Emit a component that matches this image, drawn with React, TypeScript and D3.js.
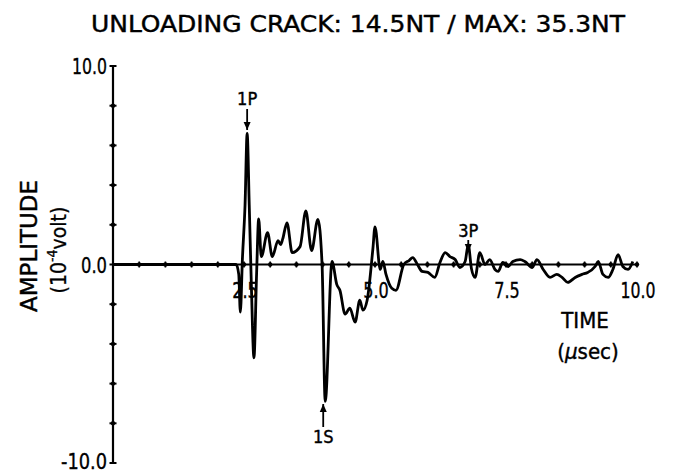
import React from "react";
import * as d3 from "d3";

const times = [0, 2.35, 2.4, 2.43, 2.47, 2.52, 2.56, 2.6, 2.64, 2.69, 2.74, 2.78, 2.83, 2.95, 3.04, 3.15, 3.2, 3.24, 3.32, 3.42, 3.57, 3.68, 3.79, 3.91, 3.99, 4.05, 4.18, 4.27, 4.33, 4.43, 4.52, 4.62, 4.71, 4.77, 4.85, 4.96, 5.0, 5.1, 5.15, 5.21, 5.32, 5.4, 5.55, 5.65, 5.72, 5.81, 5.9, 6.01, 6.14, 6.24, 6.34, 6.43, 6.53, 6.62, 6.72, 6.78, 6.84, 6.91, 7.0, 7.1, 7.19, 7.29, 7.35, 7.44, 7.54, 7.63, 7.77, 7.86, 8.0, 8.09, 8.21, 8.34, 8.47, 8.57, 8.68, 8.82, 8.95, 9.06, 9.2, 9.26, 9.35, 9.45, 9.54, 9.64, 9.73, 9.83, 9.92];
const amplitudes = [0, 0, -0.5, -2.4, 0.3, 3.0, 6.6, 3.0, -1.0, -4.7, -0.5, 2.3, 0.4, 1.6, 0.4, 1.2, 1.0, 1.3, 2.1, 0.6, 0.9, 2.7, 0.7, 2.27, 0, -6.9, 0.15, -1.0, -1.3, -2.5, -2.2, -2.9, -1.8, -2.3, -1.8, 0.8, 1.9, -0.25, 0.15, -0.5, -1.2, -1.3, 0, 0.2, 0.35, 0, -0.35, -0.4, -0.65, 0.1, 0.6, 0.4, 0.25, -0.15, 0.15, 1.0, -0.2, -0.65, 0.6, 0, 0.25, -0.25, -0.35, 0.1, -0.1, 0.15, 0.25, 0.15, -0.15, 0.25, -0.25, -0.65, -0.5, -0.65, -0.9, -0.65, -0.5, -0.4, -0.1, 0.15, -0.5, -0.65, -0.25, 0.5, -0.1, -0.25, 0.15];

const xTickLabels = ["2.5", "5.0", "7.5", "10.0"];
const xTickLabelValues = [2.5, 5.0, 7.5, 10.0];
const yTickLabels = ["10.0", "0.0", "-10.0"];
const yTickLabelValues = [10, 0, -10];

const annotationLabels = ["1P", "1S", "3P"];
const annotationTimes = [2.56, 4.05, 6.78];
const annotationDirections = ["down", "up", "down"];

const title = "UNLOADING CRACK:  14.5NT / MAX:  35.3NT";

const FONT = "'DejaVu Sans Condensed', 'DejaVu Sans', 'Liberation Sans', Arial, sans-serif";

export default function App() {
  const x = d3.scaleLinear().domain([0, 10]).range([113, 637]);
  const y = d3.scaleLinear().domain([-10, 10]).range([463, 66]);

  const data = times.map((t, i) => [t, amplitudes[i]] as [number, number]);
  const line = d3
    .line<[number, number]>()
    .x((d) => x(d[0]))
    .y((d) => y(d[1]))
    .curve(d3.curveMonotoneX);

  const xTicks = d3.range(0.5, 10.01, 0.5);
  const yTicks = d3.range(-10, 10.01, 2);

  const labelWidth = (s: string) => s.length * 9.5 - 3;

  const annots = annotationLabels.map((lab, i) => {
    const t = annotationTimes[i];
    const ax = x(t);
    if (lab === "1P") return { lab, ax, labY: 105, y1: 109, y2: 130, dir: annotationDirections[i] };
    if (lab === "1S") return { lab, ax: ax - 2, labY: 443, y1: 427, y2: 404, dir: annotationDirections[i] };
    return { lab, ax, labY: 237, y1: 240, y2: 252, dir: annotationDirections[i] };
  });

  return (
    <svg
      width={677}
      height={474}
      style={{ position: "absolute", left: 0, top: 0, background: "#fff" }}
      fontFamily={FONT}
    >
      <rect width={677} height={474} fill="#fff" />
      <text x={358} y={32} fontSize={23} textAnchor="middle" textLength={534} lengthAdjust="spacingAndGlyphs" fill="#000" stroke="#000" strokeWidth={0.4}>
        {title}
      </text>

      {/* y axis */}
      <line x1={x(0)} x2={x(0)} y1={y(10)} y2={y(-10)} stroke="#000" strokeWidth={2.2} />
      {yTicks.map((v) => (
        <g key={"yt" + v}>
          <line x1={x(0) - 3.5} x2={x(0) + 3.5} y1={y(v)} y2={y(v)} stroke="#000" strokeWidth={2} />
          {v !== 10 && v !== -10 && v !== 0 && <circle cx={x(0)} cy={y(v)} r={2.2} fill="#000" />}
        </g>
      ))}
      {/* x axis */}
      <line x1={x(0)} x2={x(10)} y1={y(0)} y2={y(0)} stroke="#000" strokeWidth={2.2} />
      {xTicks.map((v) => (
        <g key={"xt" + v}>
          <line x1={x(v)} x2={x(v)} y1={y(0) - 3} y2={y(0) + 3} stroke="#000" strokeWidth={1.6} />
          <circle cx={x(v)} cy={y(0)} r={2.2} fill="#000" />
        </g>
      ))}

      {yTickLabels.map((lab, i) => (
        <text
          key={lab}
          x={107}
          y={Math.min(y(yTickLabelValues[i]) + 8, 469)}
          fontSize={22}
          textAnchor="end"
          textLength={lab === "-10.0" ? 46 : lab === "10.0" ? 35 : 26}
          lengthAdjust="spacingAndGlyphs"
          fill="#000"
          stroke="#000"
          strokeWidth={0.35}
        >
          {lab}
        </text>
      ))}
      {xTickLabels.map((lab, i) => (
        <text
          key={lab}
          x={x(xTickLabelValues[i]) + 1}
          y={298}
          fontSize={22}
          textAnchor="middle"
          textLength={labelWidth(lab)}
          lengthAdjust="spacingAndGlyphs"
          fill="#000"
          stroke="#000"
          strokeWidth={0.35}
        >
          {lab}
        </text>
      ))}

      {/* waveform */}
      <path d={line(data) || ""} fill="none" stroke="#000" strokeWidth={2.8} strokeLinejoin="round" />

      {/* annotations */}
      {annots.map((a) => (
        <g key={a.lab}>
          <text x={a.ax} y={a.labY} fontSize={18} textAnchor="middle" fill="#000" stroke="#000" strokeWidth={0.4}>
            {a.lab}
          </text>
          <line x1={a.ax} x2={a.ax} y1={a.y1} y2={a.y2} stroke="#000" strokeWidth={1.8} />
          {a.dir === "down" ? (
            <path d={`M${a.ax - 3.5},${a.y2 - 8} L${a.ax + 3.5},${a.y2 - 8} L${a.ax},${a.y2} Z`} fill="#000" />
          ) : (
            <path d={`M${a.ax - 3.5},${a.y2 + 8} L${a.ax + 3.5},${a.y2 + 8} L${a.ax},${a.y2} Z`} fill="#000" />
          )}
        </g>
      ))}

      {/* axis titles */}
      <text transform="translate(37,246) rotate(-90)" fontSize={23} textAnchor="middle" textLength={132} lengthAdjust="spacingAndGlyphs" fill="#000" stroke="#000" strokeWidth={0.4}>
        AMPLITUDE
      </text>
      <text transform="translate(66,250) rotate(-90)" fontSize={21} textAnchor="middle" fill="#000" stroke="#000" strokeWidth={0.3}>
        (10
        <tspan fontSize={14} dy={-9}>-4</tspan>
        <tspan dy={9}>volt)</tspan>
      </text>
      <text x={585} y={328} fontSize={22} textAnchor="middle" fill="#000" stroke="#000" strokeWidth={0.4}>
        TIME
      </text>
      <text x={588} y={359} fontSize={22} textAnchor="middle" fill="#000" stroke="#000" strokeWidth={0.4}>
        (
        <tspan fontStyle="italic">μ</tspan>
        sec)
      </text>
    </svg>
  );
}
